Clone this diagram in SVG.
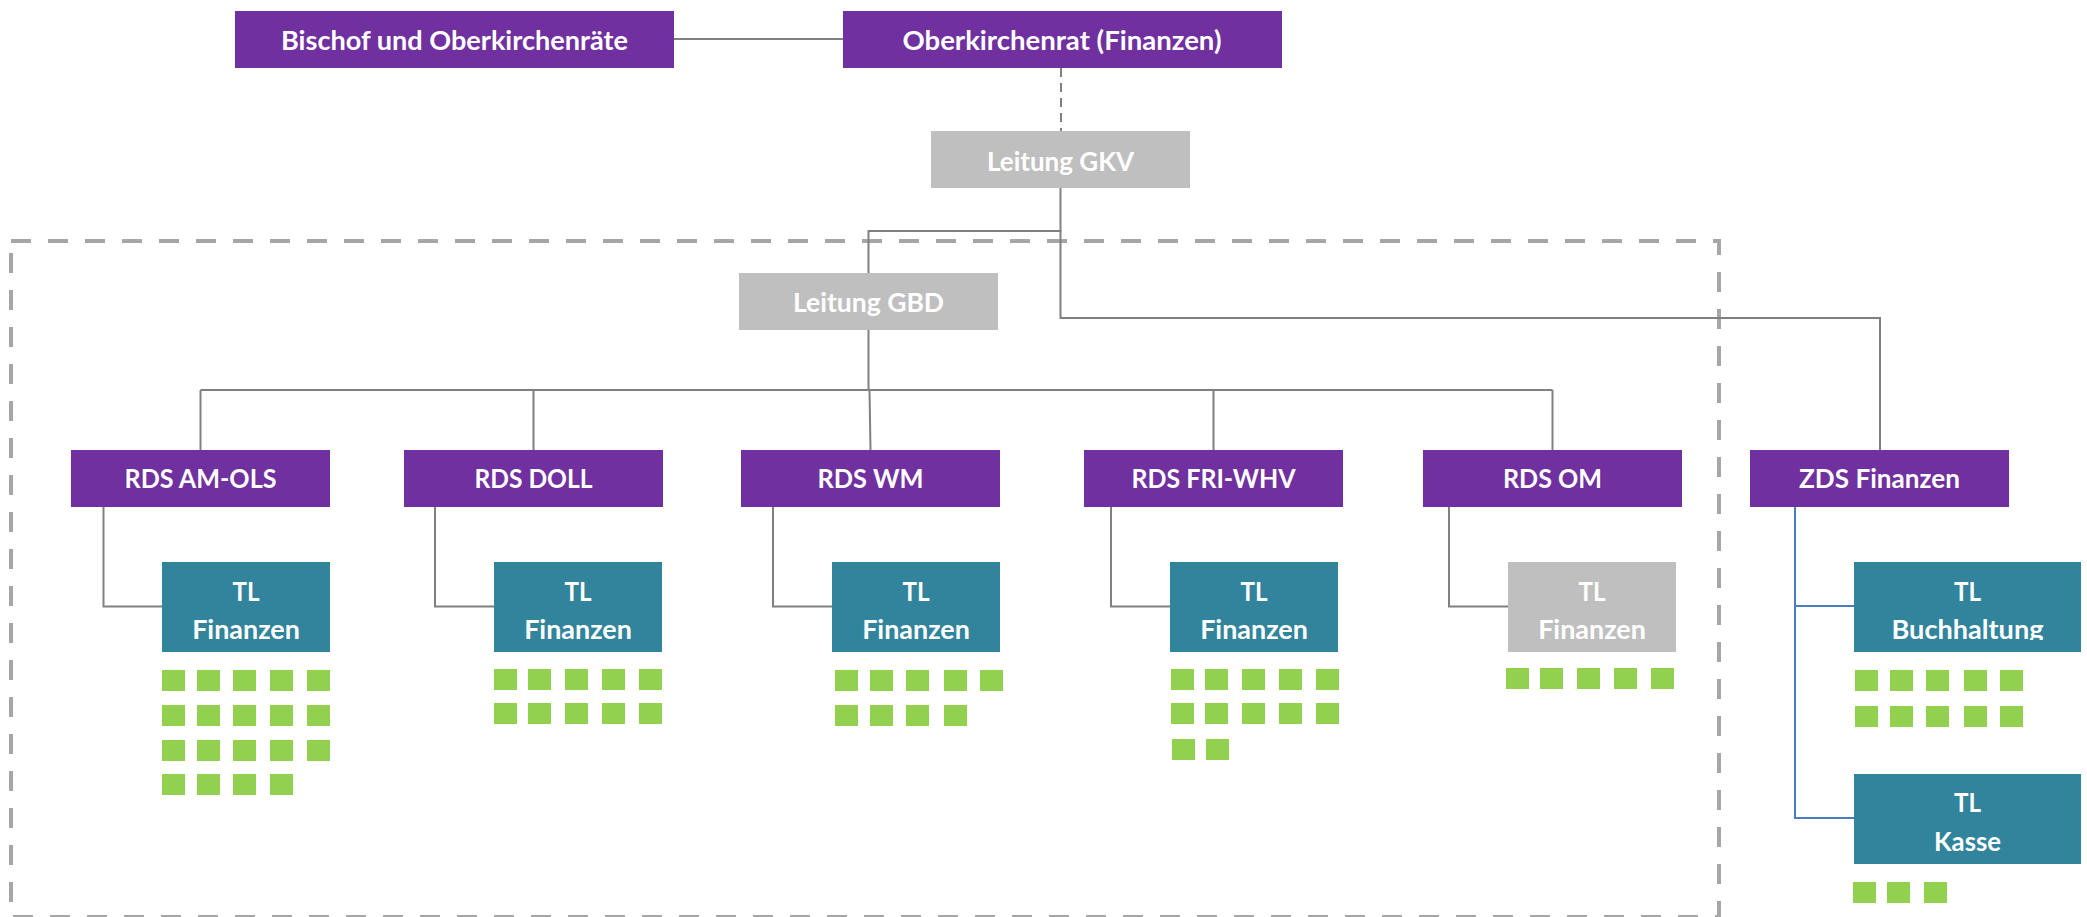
<svg xmlns="http://www.w3.org/2000/svg" width="2087" height="917" viewBox="0 0 2087 917">
<defs>
<style>
.p{fill:#7030A0}
.t{fill:#31849B}
.g{fill:#BFBFBF}
.sq{fill:#92D050}
.lbl{font-family:Lato,"Open Sans","Liberation Sans",sans-serif;font-weight:bold;font-size:26px;fill:#FFFFFF;text-anchor:middle}
.c{fill:none;stroke:#808080;stroke-width:2}
.cb{fill:none;stroke:#4A7EBB;stroke-width:2}
.dash{stroke-dasharray:9 6}
.frame{fill:none;stroke:#A6A6A6;stroke-width:4;stroke-dasharray:20 17}
</style>
<clipPath id="clipBuch"><rect x="1854" y="562" width="227" height="78"/></clipPath>
</defs>
<rect width="2087" height="917" fill="#FFFFFF"/>
<rect class="frame" x="11" y="241" width="1708" height="676"/>

<g id="connectors">
<line class="c" x1="674" y1="39" x2="843" y2="39"/>
<line class="c dash" x1="1061" y1="68" x2="1061" y2="131"/>
<path class="c" d="M1060.5,188 V231 H868.5 V273"/>
<path class="c" d="M1060.5,231 V318 H1880 V450"/>
<path class="c" d="M868.5,330 V390"/>
<path class="c" d="M200.5,390 H1552.5"/>
<path class="c" d="M200.5,390 V450 M533.5,390 V450 M869.5,390 L870.5,450 M1213.5,390 V450 M1552.5,390 V450"/>
<path class="c" d="M103.5,507 V606.5 H162 M435,507 V606.5 H494 M773,507 V606.5 H832 M1111,507 V606.5 H1170 M1449,507 V606.5 H1508"/>
<path class="cb" d="M1795,507 V818 H1854 M1795,606 H1854"/>
</g>

<g id="bischof">
<rect class="p" x="235" y="11" width="439" height="57"/>
<text class="lbl" x="454.5" y="50" textLength="347" lengthAdjust="spacingAndGlyphs">Bischof und Oberkirchenräte</text>
</g>
<g id="oberkirchenrat">
<rect class="p" x="843" y="11" width="439" height="57"/>
<text class="lbl" x="1062" y="50" textLength="319" lengthAdjust="spacingAndGlyphs">Oberkirchenrat (Finanzen)</text>
</g>
<g id="leitung-gkv">
<rect class="g" x="931" y="131" width="259" height="57"/>
<text class="lbl" x="1060.5" y="171" textLength="147" lengthAdjust="spacingAndGlyphs">Leitung GKV</text>
</g>
<g id="leitung-gbd">
<rect class="g" x="739" y="273" width="259" height="57"/>
<text class="lbl" x="868.5" y="312" textLength="151" lengthAdjust="spacingAndGlyphs">Leitung GBD</text>
</g>

<g id="rds-am-ols">
<rect class="p" x="71" y="450" width="259" height="57"/>
<text class="lbl" x="200.5" y="488" textLength="152" lengthAdjust="spacingAndGlyphs">RDS AM-OLS</text>
</g>
<g id="rds-doll">
<rect class="p" x="404" y="450" width="259" height="57"/>
<text class="lbl" x="533.5" y="488" textLength="118" lengthAdjust="spacingAndGlyphs">RDS DOLL</text>
</g>
<g id="rds-wm">
<rect class="p" x="741" y="450" width="259" height="57"/>
<text class="lbl" x="870.5" y="488" textLength="106" lengthAdjust="spacingAndGlyphs">RDS WM</text>
</g>
<g id="rds-fri-whv">
<rect class="p" x="1084" y="450" width="259" height="57"/>
<text class="lbl" x="1213.5" y="488" textLength="164" lengthAdjust="spacingAndGlyphs">RDS FRI-WHV</text>
</g>
<g id="rds-om">
<rect class="p" x="1423" y="450" width="259" height="57"/>
<text class="lbl" x="1552.5" y="488" textLength="99" lengthAdjust="spacingAndGlyphs">RDS OM</text>
</g>
<g id="zds-finanzen">
<rect class="p" x="1750" y="450" width="259" height="57"/>
<text class="lbl" x="1879.5" y="488" textLength="161" lengthAdjust="spacingAndGlyphs">ZDS Finanzen</text>
</g>

<g id="tl-am-ols">
<rect class="t" x="162" y="562" width="168" height="90"/>
<text class="lbl" x="246" y="601" textLength="27" lengthAdjust="spacingAndGlyphs">TL</text>
<text class="lbl" x="246" y="639" textLength="107.6" lengthAdjust="spacingAndGlyphs">Finanzen</text>
<g>
<rect class="sq" x="162" y="670" width="23" height="21"/><rect class="sq" x="197" y="670" width="23" height="21"/><rect class="sq" x="233" y="670" width="23" height="21"/><rect class="sq" x="270" y="670" width="23" height="21"/><rect class="sq" x="307" y="670" width="23" height="21"/>
<rect class="sq" x="162" y="705" width="23" height="21"/><rect class="sq" x="197" y="705" width="23" height="21"/><rect class="sq" x="233" y="705" width="23" height="21"/><rect class="sq" x="270" y="705" width="23" height="21"/><rect class="sq" x="307" y="705" width="23" height="21"/>
<rect class="sq" x="162" y="740" width="23" height="21"/><rect class="sq" x="197" y="740" width="23" height="21"/><rect class="sq" x="233" y="740" width="23" height="21"/><rect class="sq" x="270" y="740" width="23" height="21"/><rect class="sq" x="307" y="740" width="23" height="21"/>
<rect class="sq" x="162" y="774" width="23" height="21"/><rect class="sq" x="197" y="774" width="23" height="21"/><rect class="sq" x="233" y="774" width="23" height="21"/><rect class="sq" x="270" y="774" width="23" height="21"/>
</g>
</g>

<g id="tl-doll">
<rect class="t" x="494" y="562" width="168" height="90"/>
<text class="lbl" x="578" y="601" textLength="27" lengthAdjust="spacingAndGlyphs">TL</text>
<text class="lbl" x="578" y="639" textLength="107.6" lengthAdjust="spacingAndGlyphs">Finanzen</text>
<g>
<rect class="sq" x="494" y="669" width="23" height="21"/><rect class="sq" x="528" y="669" width="23" height="21"/><rect class="sq" x="565" y="669" width="23" height="21"/><rect class="sq" x="602" y="669" width="23" height="21"/><rect class="sq" x="639" y="669" width="23" height="21"/>
<rect class="sq" x="494" y="703" width="23" height="21"/><rect class="sq" x="528" y="703" width="23" height="21"/><rect class="sq" x="565" y="703" width="23" height="21"/><rect class="sq" x="602" y="703" width="23" height="21"/><rect class="sq" x="639" y="703" width="23" height="21"/>
</g>
</g>

<g id="tl-wm">
<rect class="t" x="832" y="562" width="168" height="90"/>
<text class="lbl" x="916" y="601" textLength="27" lengthAdjust="spacingAndGlyphs">TL</text>
<text class="lbl" x="916" y="639" textLength="107.6" lengthAdjust="spacingAndGlyphs">Finanzen</text>
<g>
<rect class="sq" x="835" y="670" width="23" height="21"/><rect class="sq" x="870" y="670" width="23" height="21"/><rect class="sq" x="906" y="670" width="23" height="21"/><rect class="sq" x="944" y="670" width="23" height="21"/><rect class="sq" x="980" y="670" width="23" height="21"/>
<rect class="sq" x="835" y="705" width="23" height="21"/><rect class="sq" x="870" y="705" width="23" height="21"/><rect class="sq" x="906" y="705" width="23" height="21"/><rect class="sq" x="944" y="705" width="23" height="21"/>
</g>
</g>

<g id="tl-fri-whv">
<rect class="t" x="1170" y="562" width="168" height="90"/>
<text class="lbl" x="1254" y="601" textLength="27" lengthAdjust="spacingAndGlyphs">TL</text>
<text class="lbl" x="1254" y="639" textLength="107.6" lengthAdjust="spacingAndGlyphs">Finanzen</text>
<g>
<rect class="sq" x="1171" y="669" width="23" height="21"/><rect class="sq" x="1205" y="669" width="23" height="21"/><rect class="sq" x="1242" y="669" width="23" height="21"/><rect class="sq" x="1279" y="669" width="23" height="21"/><rect class="sq" x="1316" y="669" width="23" height="21"/>
<rect class="sq" x="1171" y="703" width="23" height="21"/><rect class="sq" x="1205" y="703" width="23" height="21"/><rect class="sq" x="1242" y="703" width="23" height="21"/><rect class="sq" x="1279" y="703" width="23" height="21"/><rect class="sq" x="1316" y="703" width="23" height="21"/>
<rect class="sq" x="1172" y="739" width="23" height="21"/><rect class="sq" x="1206" y="739" width="23" height="21"/>
</g>
</g>

<g id="tl-om">
<rect class="g" x="1508" y="562" width="168" height="90"/>
<text class="lbl" x="1592" y="601" textLength="27" lengthAdjust="spacingAndGlyphs">TL</text>
<text class="lbl" x="1592" y="639" textLength="107.6" lengthAdjust="spacingAndGlyphs">Finanzen</text>
<g>
<rect class="sq" x="1506" y="668" width="23" height="21"/><rect class="sq" x="1540" y="668" width="23" height="21"/><rect class="sq" x="1577" y="668" width="23" height="21"/><rect class="sq" x="1614" y="668" width="23" height="21"/><rect class="sq" x="1651" y="668" width="23" height="21"/>
</g>
</g>

<g id="tl-buchhaltung">
<rect class="t" x="1854" y="562" width="227" height="90"/>
<text class="lbl" x="1967.5" y="601" textLength="27" lengthAdjust="spacingAndGlyphs">TL</text>
<text class="lbl" x="1967.5" y="639" clip-path="url(#clipBuch)" textLength="152" lengthAdjust="spacingAndGlyphs">Buchhaltung</text>
<g>
<rect class="sq" x="1855" y="670" width="23" height="21"/><rect class="sq" x="1890" y="670" width="23" height="21"/><rect class="sq" x="1926" y="670" width="23" height="21"/><rect class="sq" x="1964" y="670" width="23" height="21"/><rect class="sq" x="2000" y="670" width="23" height="21"/>
<rect class="sq" x="1855" y="706" width="23" height="21"/><rect class="sq" x="1890" y="706" width="23" height="21"/><rect class="sq" x="1926" y="706" width="23" height="21"/><rect class="sq" x="1964" y="706" width="23" height="21"/><rect class="sq" x="2000" y="706" width="23" height="21"/>
</g>
</g>

<g id="tl-kasse">
<rect class="t" x="1854" y="774" width="227" height="90"/>
<text class="lbl" x="1967.5" y="812" textLength="27" lengthAdjust="spacingAndGlyphs">TL</text>
<text class="lbl" x="1967.5" y="851" textLength="67" lengthAdjust="spacingAndGlyphs">Kasse</text>
<g>
<rect class="sq" x="1853" y="882" width="23" height="21"/><rect class="sq" x="1887" y="882" width="23" height="21"/><rect class="sq" x="1924" y="882" width="23" height="21"/>
</g>
</g>
</svg>
